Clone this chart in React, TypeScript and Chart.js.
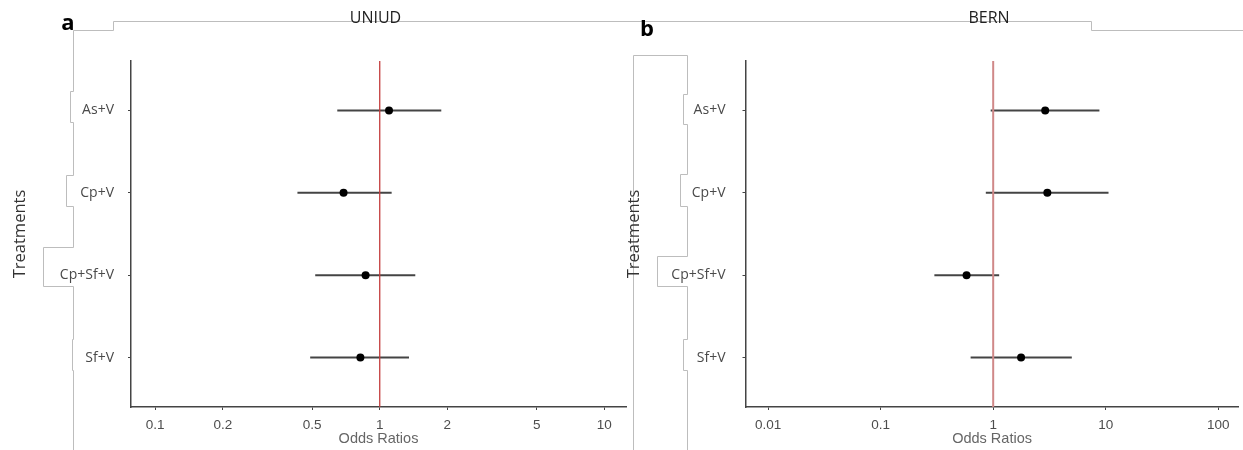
import { useEffect, useRef } from 'react';
import { Chart, registerables } from 'chart.js';

Chart.register(...registerables);

const treatments = ['As+V', 'Cp+V', 'Cp+Sf+V', 'Sf+V'];

// UNIUD (panel a)
const uniudOR = [1.1, 0.69, 0.865, 0.82];
const uniudLower = [0.647, 0.43, 0.516, 0.49];
const uniudUpper = [1.88, 1.13, 1.44, 1.35];
const uniudTicks = [0.1, 0.2, 0.5, 1, 2, 5, 10];

// BERN (panel b)
const bernOR = [2.9, 3.03, 0.58, 1.77];
const bernLower = [0.95, 0.86, 0.3, 0.63];
const bernUpper = [8.8, 10.6, 1.13, 5.0];
const bernTicks = [0.01, 0.1, 1, 10, 100];

const refValue = 1;

type PanelProps = {
  letter: string;
  title: string;
  or: number[];
  lower: number[];
  upper: number[];
  ticks: number[];
  xMin: number;
  xMax: number;
  left: number;
  width: number;
  yWidth: number;
  padRight: number;
  labelPad: number;
  titlePad: number;
  letterX: number;
  letterY: number;
  refColor: string;
  refWidth: number;
};

function ForestPanel(p: PanelProps) {
  const canvasRef = useRef<HTMLCanvasElement>(null);

  useEffect(() => {
    if (!canvasRef.current) return;
    const ctx = canvasRef.current.getContext('2d');
    if (!ctx) return;

    const decor = {
      id: 'decor',
      afterDatasetsDraw(chart: any) {
        const { ctx, chartArea, scales } = chart;
        const x = scales.x.getPixelForValue(refValue);
        ctx.save();
        ctx.strokeStyle = p.refColor;
        ctx.lineWidth = p.refWidth;
        ctx.beginPath();
        ctx.moveTo(x, chartArea.top);
        ctx.lineTo(x, chartArea.bottom);
        ctx.stroke();
        ctx.restore();
      },
      afterDraw(chart: any) {
        const { ctx, chartArea } = chart;
        ctx.save();
        ctx.fillStyle = '#222';
        ctx.textAlign = 'center';
        ctx.textBaseline = 'middle';
        ctx.font = '16px "Open Sans"';
        ctx.fillText(p.title, (chartArea.left + chartArea.right) / 2 - 3, 18);
        ctx.fillStyle = '#000';
        ctx.font = 'bold 22px "Open Sans"';
        ctx.fillText(p.letter, p.letterX - p.left, p.letterY);
        ctx.restore();
      },
    };

    const ciSets = treatments.map((_, i) => ({
      data: [
        { x: p.lower[i], y: i },
        { x: p.upper[i], y: i },
      ],
      showLine: true,
      borderColor: '#444',
      borderWidth: 2,
      pointRadius: 0,
      order: 2,
    }));

    const chart = new Chart(ctx, {
      type: 'scatter',
      data: {
        datasets: [
          ...ciSets,
          {
            data: p.or.map((v, i) => ({ x: v, y: i })),
            pointRadius: 4,
            backgroundColor: '#000',
            borderWidth: 0,
            order: 1,
          },
        ],
      },
      options: {
        responsive: true,
        maintainAspectRatio: false,
        animation: false,
        layout: { padding: { top: 61, right: p.padRight, left: 0, bottom: 0 } },
        plugins: {
          legend: { display: false },
          tooltip: { enabled: false },
        },
        scales: {
          x: {
            type: 'logarithmic',
            min: p.xMin,
            max: p.xMax,
            afterBuildTicks: (scale: any) => {
              scale.ticks = p.ticks.map((v) => ({ value: v }));
            },
            afterFit: (scale: any) => {
              scale.height = 43;
            },
            ticks: {
              callback: (v: any) => String(v),
              color: '#4d4d4d',
              font: { family: '"Liberation Sans", Arial', size: 13.5 },
              padding: 7,
              maxRotation: 0,
              autoSkip: false,
            },
            grid: {
              display: true,
              drawOnChartArea: false,
              drawTicks: true,
              tickLength: 3,
              color: '#444',
            },
            border: { display: true, color: '#444', width: 1.5 },
            title: {
              display: true,
              text: 'Odds Ratios',
              color: '#666',
              font: { family: '"Liberation Sans", Arial', size: 14.5 },
              padding: { top: 0, bottom: 2 },
            },
          },
          y: {
            type: 'linear',
            min: -0.6,
            max: treatments.length - 0.4,
            reverse: true,
            afterBuildTicks: (scale: any) => {
              scale.ticks = treatments.map((_, i) => ({ value: i }));
            },
            afterFit: (scale: any) => {
              scale.width = p.yWidth;
            },
            ticks: {
              callback: (v: any) => treatments[v] ?? '',
              color: '#4a4a4a',
              font: { family: '"Open Sans"', size: 14 },
              padding: p.labelPad,
              autoSkip: false,
            },
            grid: {
              display: true,
              drawOnChartArea: false,
              drawTicks: true,
              tickLength: 3,
              color: '#444',
            },
            border: { display: true, color: '#444', width: 1.5 },
            title: {
              display: true,
              text: 'Treatments',
              color: '#333',
              font: { family: '"Open Sans"', size: 16.5 },
              padding: { top: p.titlePad, bottom: 0 },
            },
          },
        },
      },
      plugins: [decor],
    });

    return () => chart.destroy();
  }, []);

  return (
    <div
      style={{
        position: 'absolute',
        left: p.left,
        top: 0,
        width: p.width,
        height: 450,
      }}
    >
      <canvas ref={canvasRef} />
    </div>
  );
}

export default function App() {
  return (
    <div
      style={{
        position: 'absolute',
        left: 0,
        top: 0,
        width: 1243,
        height: 450,
        background: '#fff',
        overflow: 'hidden',
      }}
    >
      <svg
        width={1243}
        height={450}
        style={{ position: 'absolute', left: 0, top: 0 }}
        fill="none"
        stroke="#bdbdbd"
        strokeWidth={1}
      >
        <path d="M73.5 30.5 H113.5 V21.5 H1091.5 V30.5 H1243" />
        <path d="M73.5 30.5 V91.5 H70.5 V122.5 H73.5 V175.5 H66.5 V206.5 H73.5 V247.5 H43.5 V286.5 H73.5 V339.5 H72.5 V370.5 H73.5 V450" />
        <path d="M633.5 450 V55.5 H687.5 V94.5 H683.5 V124.5 H687.5 V174.5 H680.5 V206.5 H687.5 V256.5 H657.5 V286.5 H687.5 V339.5 H683.5 V370.5 H687.5 V450" />
      </svg>
      <ForestPanel
        letter="a"
        title="UNIUD"
        or={uniudOR}
        lower={uniudLower}
        upper={uniudUpper}
        ticks={uniudTicks}
        xMin={0.078}
        xMax={12.5}
        left={0}
        width={630}
        yWidth={131}
        padRight={4}
        labelPad={14}
        titlePad={10}
        letterX={68}
        letterY={24}
        refColor="#c43c3c"
        refWidth={1.3}
      />
      <ForestPanel
        letter="b"
        title="BERN"
        or={bernOR}
        lower={bernLower}
        upper={bernUpper}
        ticks={bernTicks}
        xMin={0.00628}
        xMax={152}
        left={618}
        width={625}
        yWidth={127.5}
        padRight={4.4}
        labelPad={17}
        titlePad={6}
        letterX={647}
        letterY={30}
        refColor="#d08888"
        refWidth={2}
      />
    </div>
  );
}
